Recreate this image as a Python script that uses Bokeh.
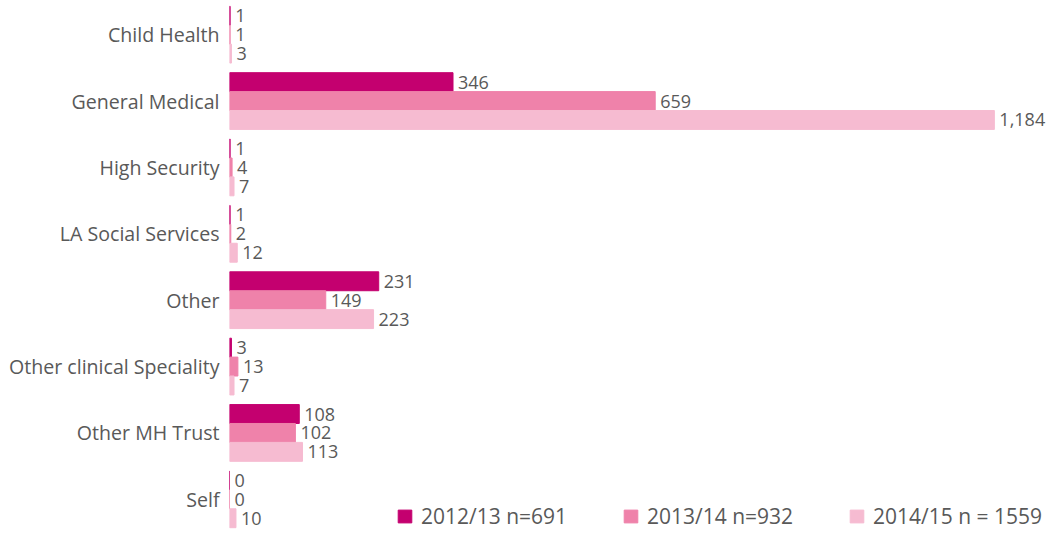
from bokeh.plotting import figure
from bokeh.models import FactorRange, Range1d, ColumnDataSource, Legend, LegendItem
from bokeh.transform import dodge
from bokeh.core.properties import value
from bokeh.embed import file_html
from bokeh.resources import INLINE

categories = ["Child Health", "General Medical", "High Security", "LA Social Services",
              "Other", "Other clinical Speciality", "Other MH Trust", "Self"]
series_names = ["2012/13 n=691", "2013/14 n=932", "2014/15 n = 1559"]
v2012 = [1, 346, 1, 1, 231, 3, 108, 0]
v2013 = [1, 659, 4, 2, 149, 13, 102, 0]
v2014 = [3, 1184, 7, 12, 223, 7, 113, 10]
colors = ["#C4006F", "#EF82AA", "#F6BBD1"]

FONT = "Open Sans"
GRAY = "#595959"

p = figure(width=1052, height=533, output_backend="svg", toolbar_location=None,
           y_range=FactorRange(factors=list(reversed(categories)),
                               range_padding=0.015, range_padding_units="absolute"),
           x_range=Range1d(0, 1274),
           min_border_left=229, min_border_right=0, min_border_top=0, min_border_bottom=0)
p.outline_line_color = None
p.xgrid.visible = False
p.ygrid.visible = False
p.xaxis.visible = False
p.yaxis.axis_line_color = None
p.yaxis.major_tick_line_color = None
p.yaxis.minor_tick_line_color = None
p.yaxis.major_label_text_font = FONT
p.yaxis.major_label_text_font_size = "19.6px"
p.yaxis.major_label_text_color = GRAY
p.yaxis.major_label_standoff = 4

bh = 0.285
offsets = [bh, 0.0, -bh]
renderers = []
for vals, off, col in zip([v2012, v2013, v2014], offsets, colors):
    src = ColumnDataSource(dict(cat=categories, v=vals,
                                lab=[f"{x:,}" for x in vals]))
    r = p.hbar(y=dodge("cat", off, range=p.y_range), right="v", left=0, height=bh,
               source=src, fill_color=col, line_color=col, line_width=1)
    renderers.append(r)
    p.text(x="v", y=dodge("cat", off, range=p.y_range), text="lab", source=src,
           x_offset=5, text_baseline="middle", text_align="left",
           text_font=value(FONT), text_font_size="18px", text_color=GRAY)

legend_x = [167, 393, 619]
for r, name, lx in zip(renderers, series_names, legend_x):
    lg = Legend(items=[LegendItem(label=name, renderers=[r])], location=(lx, 3),
                orientation="horizontal", padding=0, margin=0, spacing=0,
                glyph_width=17, glyph_height=16, label_height=16,
                label_standoff=8, label_text_font=FONT, label_text_font_size="21px",
                label_text_color=GRAY, border_line_color=None,
                background_fill_alpha=0, label_text_baseline="middle")
    p.add_layout(lg, "center")

open("out.html", "w").write(file_html(p, INLINE))
